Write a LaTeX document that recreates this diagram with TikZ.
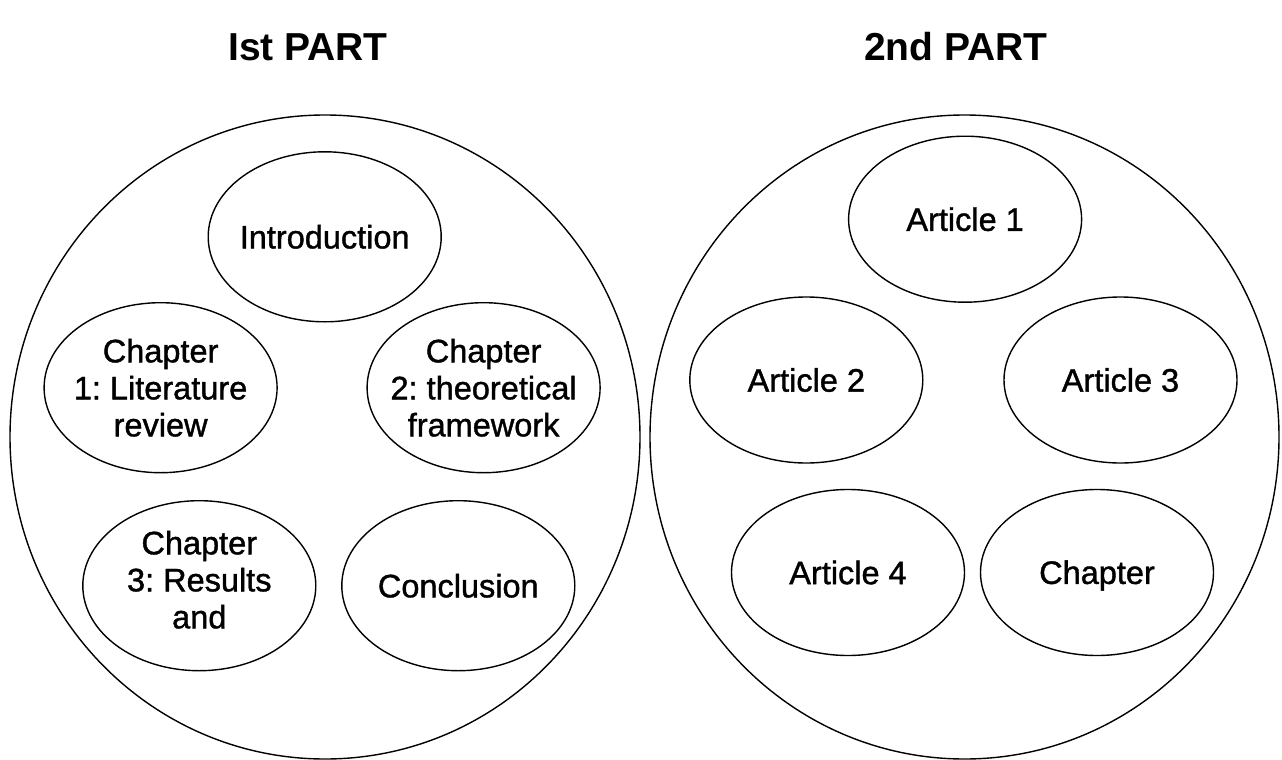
\documentclass[tikz,border=0pt]{standalone}
\usepackage{fontspec}
\setmainfont{Liberation Sans}
\newfontfamily\itemfont[FakeBold=1.2]{Liberation Sans}
\usetikzlibrary{shapes.geometric}
\frenchspacing
\begin{document}
\begin{tikzpicture}[x=1pt,y=-1pt,
  bigpart/.style={draw,line width=1.4pt,ellipse,inner sep=0pt,minimum width=630pt,minimum height=644pt},
  leftitem/.style={draw,line width=1.4pt,ellipse,inner sep=0pt,minimum width=233pt,minimum height=170pt},
  rightitem/.style={draw,line width=1.4pt,ellipse,inner sep=0pt,minimum width=233pt,minimum height=166pt},
  itemtext/.style={align=center,font=\itemfont\fontsize{32.5}{37}\selectfont,inner sep=0pt},
  title/.style={font=\fontsize{39}{46}\selectfont\bfseries,inner sep=0pt}]
\useasboundingbox (0,0) rectangle (1282,760);
\fill[white] (0,0) rectangle (1282,760);
% titles
\node[title] (t1) at (308,47) {Ist PART};
\node[title] (t2) at (956,47) {2nd PART};
% big circles
\node[bigpart] (p1) at (325,437) {};
\node[bigpart,minimum width=629pt] (p2) at (964.5,437) {};
% left items
\node[leftitem] (intro) at (324.7,236.8) {};
\node[itemtext] (introT) at (intro) {Introduction};
\node[leftitem] (ch1) at (160.6,387.7) {};
\node[itemtext] (ch1T) at (ch1) {Chapter\\1: Literature\\review};
\node[leftitem] (ch2) at (483.6,387.7) {};
\node[itemtext] (ch2T) at (ch2) {Chapter\\2: theoretical\\framework};
\node[leftitem] (ch3) at (199.3,585.7) {};
\node[itemtext] (ch3T) at ([yshift=6]ch3) {Chapter\\3: Results\\and};
\node[leftitem] (concl) at (458.3,585.7) {};
\node[itemtext] (conclT) at (concl) {Conclusion};
% right items
\node[rightitem] (a1) at (965.1,219.2) {};
\node[itemtext] (a1T) at (a1) {Article 1};
\node[rightitem] (a2) at (806.3,380) {};
\node[itemtext] (a2T) at (a2) {Article 2};
\node[rightitem] (a3) at (1120.5,380) {};
\node[itemtext] (a3T) at (a3) {Article 3};
\node[rightitem] (a4) at (848,572.5) {};
\node[itemtext] (a4T) at (a4) {Article 4};
\node[rightitem] (chap) at (1097,572.5) {};
\node[itemtext] (chapT) at ([yshift=-3]chap) {Chapter};
\end{tikzpicture}
\end{document}
